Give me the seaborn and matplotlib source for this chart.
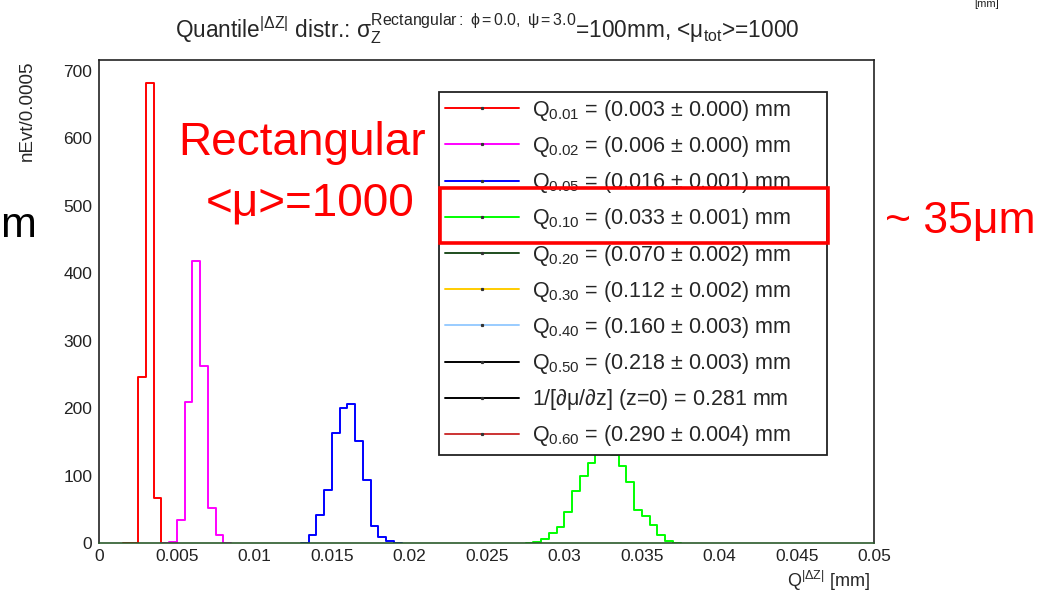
import numpy as np
import pandas as pd
import matplotlib
matplotlib.use("Agg")
import matplotlib.pyplot as plt
from matplotlib.lines import Line2D
from matplotlib.patches import Rectangle
import seaborn as sns

# ---------------- data ----------------
bin_width = 0.0005
red_lo = 0.0015
red_counts = [0, 1, 246, 682, 67, 1, 0]
mag_lo = 0.0040
mag_counts = [0, 2, 35, 210, 418, 263, 52, 12, 0]
blue_lo = 0.0130
blue_counts = [0, 13, 42, 79, 163, 200, 206, 152, 94, 26, 10, 4, 0]
green_lo = 0.0275
green_counts = [0, 2, 7, 16, 24, 47, 77, 100, 119, 134, 146, 131, 114, 91, 49, 40, 27, 12, 4, 0]

quantile_levels = ["0.01", "0.02", "0.05", "0.10", "0.20", "0.30", "0.40", "0.50", None, "0.60"]
quantile_values = ["0.003", "0.006", "0.016", "0.033", "0.070", "0.112", "0.160", "0.218", "0.281", "0.290"]
quantile_errors = ["0.000", "0.000", "0.001", "0.001", "0.002", "0.002", "0.003", "0.003", None, "0.004"]
legend_colors = ["#ff0000", "#ff00ff", "#0000ff", "#00ff00", "#1e4d1e",
                 "#ffcc00", "#99ccff", "#000000", "#000000", "#cc3333"]

x_ticks = [0, 0.005, 0.01, 0.015, 0.02, 0.025, 0.03, 0.035, 0.04, 0.045, 0.05]
x_ticklabels = ["0", "0.005", "0.01", "0.015", "0.02", "0.025", "0.03", "0.035", "0.04", "0.045", "0.05"]
y_ticks = [0, 100, 200, 300, 400, 500, 600, 700]

# ---------------- style ----------------
sns.set_style("white")
plt.rcParams["font.family"] = ["Liberation Sans", "DejaVu Sans"]
plt.rcParams["mathtext.fontset"] = "custom"
plt.rcParams["mathtext.rm"] = "Liberation Sans"
plt.rcParams["mathtext.it"] = "Liberation Sans"
plt.rcParams["mathtext.default"] = "regular"

fig = plt.figure(figsize=(10.48, 5.93), dpi=100)
ax = fig.add_axes([0.0948, 0.0838, 0.7395, 0.8150])

series = [
    (red_lo, red_counts, "#ff0000"),
    (mag_lo, mag_counts, "#ff00ff"),
    (blue_lo, blue_counts, "#0000ff"),
    (green_lo, green_counts, "#00ff00"),
]
for lo, counts, col in series:
    n = len(counts)
    edges = np.round(lo + bin_width * np.arange(n + 1), 6)
    centers = (edges[:-1] + edges[1:]) / 2
    df = pd.DataFrame({"q": centers, "n": np.asarray(counts, dtype=float)})
    sns.histplot(data=df, x="q", weights="n", bins=[float(e) for e in edges],
                 element="step", fill=False, color=col, linewidth=1.4, ax=ax)

ax.set_xlim(0, 0.05)
ax.set_ylim(0, 716)
ax.set_xticks(x_ticks)
ax.set_xticklabels(x_ticklabels)
ax.set_yticks(y_ticks)
ax.set_xticks(np.arange(0, 0.0501, 0.001), minor=True)
ax.set_yticks(np.arange(0, 716, 20), minor=True)
ax.tick_params(axis="both", which="both", direction="in", top=False, right=False,
               labelsize=12.5, colors="#222222")
ax.tick_params(axis="y", which="major", length=17, width=1.1, pad=5)
ax.tick_params(axis="y", which="minor", length=8.5, width=1.1)
ax.tick_params(axis="x", which="major", length=10, width=1.1, pad=4)
ax.tick_params(axis="x", which="minor", length=5, width=1.1)
for s in ["left", "top", "right"]:
    ax.spines[s].set_color("#222222")
    ax.spines[s].set_linewidth(1.2)
ax.spines["bottom"].set_color("#2b5a2b")
ax.spines["bottom"].set_linewidth(1.2)

ax.set_xlabel(r"Q$^{|\Delta Z|}$ [mm]", loc="right", fontsize=13)
ax.xaxis.set_label_coords(0.995, -0.052)
ax.set_ylabel("nEvt/0.0005", loc="top", fontsize=13.5)
ax.yaxis.set_label_coords(-0.082, 1.0)

ax.set_title(r"Quantile$^{|\Delta Z|}$ distr.: $\sigma_{Z}^{Rectangular{:}\ \phi{=}0.0,\ \psi{=}3.0}$=100mm, <$\mu_{tot}$>=1000",
             fontsize=16.3, pad=16)

# legend
handles = []
labels = []
for lvl, val, err, col in zip(quantile_levels, quantile_values, quantile_errors, legend_colors):
    handles.append(Line2D([0], [0], color=col, lw=1.4, marker="s", markersize=1.3,
                          markerfacecolor="#333333", markeredgecolor="#333333"))
    if lvl is None:
        labels.append(r"1/[$\partial\mu/\partial$z] (z=0) = " + val + " mm")
    else:
        labels.append("Q$_{" + lvl + "}$ = (" + val + " ± " + err + ") mm")
leg = ax.legend(handles, labels, loc="upper left",
                bbox_to_anchor=(0.4383, 0.1862, 0.5003, 0.7482), mode="expand",
                fontsize=15.5, frameon=True, fancybox=False, shadow=False,
                framealpha=1.0, edgecolor="#222222", handlelength=3.44,
                handletextpad=0.6, borderpad=0.28, labelspacing=0.52,
                borderaxespad=0.0, numpoints=1)
leg.get_frame().set_linewidth(1.3)
leg.set_zorder(6)

# overlay annotations
fig.text(302 / 1048, 1 - 155 / 593, "Rectangular", color="red", fontsize=33,
         ha="center", va="baseline")
fig.text(310 / 1048, 1 - 215 / 593, "<μ>=1000", color="red", fontsize=33,
         ha="center", va="baseline")
fig.text(885 / 1048, 1 - 233 / 593, "~ 35μm", color="red", fontsize=32,
         ha="left", va="baseline")
fig.text(0.0, 1 - 237 / 593, "m", color="black", fontsize=31,
         ha="left", va="baseline")
fig.text(987 / 1048, 1 - 7 / 593, "[mm]", color="#222222", fontsize=8,
         ha="center", va="baseline")
fig.add_artist(Rectangle((440 / 1048, 1 - 242.7 / 593), 387.7 / 1048, 54.4 / 593,
                         transform=fig.transFigure, fill=False, edgecolor="red",
                         linewidth=2.6, zorder=10))

fig.savefig("out.png", dpi=100, facecolor="white")
